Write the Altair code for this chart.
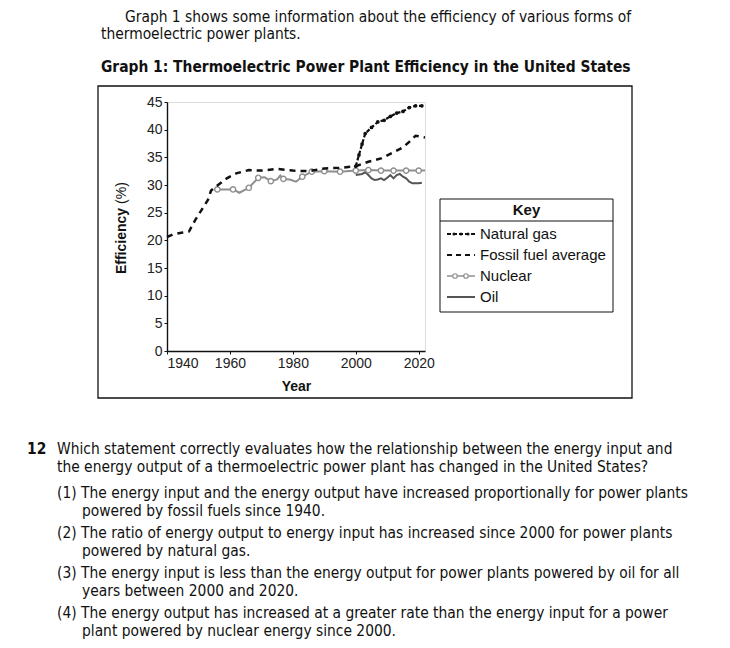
import altair as alt
import pandas as pd

# ---------------- data ----------------
fossil_years = [1940, 1942, 1945, 1947, 1949, 1951, 1953, 1954, 1956, 1959, 1962, 1966, 1970, 1975,
                1980, 1985, 1990, 1995, 2000, 2004, 2008, 2012, 2015, 2017, 2019, 2022]
fossil_vals = [20.6, 21.1, 21.4, 21.6, 23.7, 25.5, 27.3, 29.0, 29.9, 31.2, 32.1, 32.7, 32.6, 32.9,
               32.6, 32.5, 33.0, 33.1, 33.4, 34.2, 34.8, 35.9, 36.8, 37.8, 38.9, 38.6]

gas_years = [2000, 2001, 2002, 2003, 2005, 2007, 2009, 2011, 2013, 2015, 2017, 2019, 2021]
gas_vals = [33.4, 35.4, 37.4, 39.3, 40.4, 41.4, 41.7, 42.4, 43.0, 43.3, 44.0, 44.3, 44.3]

nuclear_years = [1956, 1961, 1963, 1966, 1969, 1971, 1973, 1975, 1976, 1977, 1979, 1981, 1983, 1986,
                 1990, 1995, 2000, 2004, 2008, 2012, 2016, 2020, 2022]
nuclear_vals = [29.2, 29.2, 28.6, 29.5, 31.3, 31.4, 30.7, 31.0, 31.7, 31.1, 31.0, 30.6, 31.5, 32.4,
                32.5, 32.4, 32.6, 32.7, 32.6, 32.6, 32.6, 32.6, 32.6]
nuclear_marker_years = [1956, 1961, 1966, 1969, 1973, 1977, 1983, 1986, 1990, 1995, 2000, 2004,
                        2008, 2012, 2016, 2020]

oil_years = [2000, 2002, 2003, 2004, 2005, 2006, 2007, 2008, 2009, 2010, 2011, 2012, 2013, 2014,
             2015, 2016, 2017, 2018, 2019, 2020, 2021]
oil_vals = [31.8, 32.0, 32.3, 31.8, 31.2, 30.9, 31.0, 31.2, 30.9, 31.3, 31.8, 31.2, 31.8, 32.0,
            31.5, 31.2, 30.6, 30.3, 30.3, 30.3, 30.4]

x_ticks = [1940, 1960, 1980, 2000, 2020]
y_ticks = [0, 5, 10, 15, 20, 25, 30, 35, 40, 45]

legend_labels = ["Natural gas", "Fossil fuel average", "Nuclear", "Oil"]
legend_title = "Key"
y_title_main = "Efficiency"
y_title_unit = "(%)"
x_title = "Year"

intro_lines = ["Graph 1 shows some information about the efficiency of various forms of",
               "thermoelectric power plants."]
graph_title = "Graph 1: Thermoelectric Power Plant Efficiency in the United States"
question_number = "12"
question_lines = ["Which statement correctly evaluates how the relationship between the energy input and",
                  "the energy output of a thermoelectric power plant has changed in the United States?"]
options = [
    ["(1) The energy input and the energy output have increased proportionally for power plants",
     "powered by fossil fuels since 1940."],
    ["(2) The ratio of energy output to energy input has increased since 2000 for power plants",
     "powered by natural gas."],
    ["(3) The energy input is less than the energy output for power plants powered by oil for all",
     "years between 2000 and 2020."],
    ["(4) The energy output has increased at a greater rate than the energy input for a power",
     "plant powered by nuclear energy since 2000."],
]

# ---------------- style ----------------
W, H = 258, 249
PAD = {"left": 159, "top": 94, "right": 714 - 159 - W, "bottom": 632 - 94 - H}
CF = "Liberation Sans"
TF = "DejaVu Sans Condensed"
TS = 15.4
INK = "#111111"

fossil_df = pd.DataFrame({"year": fossil_years, "eff": fossil_vals})
gas_df = pd.DataFrame({"year": gas_years, "eff": gas_vals})
nuc_df = pd.DataFrame({"year": nuclear_years, "eff": nuclear_vals})
nuc_lookup = dict(zip(nuclear_years, nuclear_vals))
nuc_mk_df = pd.DataFrame({"year": nuclear_marker_years,
                          "eff": [nuc_lookup[y] for y in nuclear_marker_years]})
oil_df = pd.DataFrame({"year": oil_years, "eff": oil_vals})

xenc = alt.X("year:Q", scale=alt.Scale(domain=[1940, 2022], nice=False, zero=False),
             axis=alt.Axis(values=x_ticks, format="d", title=x_title, grid=False,
                           labelFlush=True, titlePadding=9))
yenc = alt.Y("eff:Q", scale=alt.Scale(domain=[0, 45], nice=False),
             axis=alt.Axis(values=y_ticks, title=None, grid=False))

oil = alt.Chart(oil_df).mark_line(color="#555555", strokeWidth=2).encode(x=xenc, y=yenc)
nuc_line = alt.Chart(nuc_df).mark_line(color="#8f8f8f", strokeWidth=2).encode(x=xenc, y=yenc)
nuc_pts = alt.Chart(nuc_mk_df).mark_point(shape="circle", filled=True, fill="white",
                                          stroke="#8f8f8f", strokeWidth=1.4, size=28,
                                          opacity=1).encode(x=xenc, y=yenc)
fossil = alt.Chart(fossil_df).mark_line(color=INK, strokeWidth=2.5,
                                        strokeDash=[6, 5]).encode(x=xenc, y=yenc)
gas_line = alt.Chart(gas_df).mark_line(color=INK, strokeWidth=2.2,
                                       strokeDash=[4, 2]).encode(x=xenc, y=yenc)
gas_pts = alt.Chart(gas_df).mark_point(shape="circle", filled=True, color=INK, size=14,
                                       opacity=1).encode(x=xenc, y=yenc)

dummy = alt.Data(values=[{"a": 1}])


def txt(s, x, y, size=TS, weight="normal", font=TF, align="left", angle=0):
    return alt.Chart(dummy).mark_text(text=s, align=align, baseline="middle", fontSize=size,
                                      fontWeight=weight, font=font, angle=angle,
                                      color=INK).encode(x=alt.value(x), y=alt.value(y))


layers = [oil, nuc_line, nuc_pts, fossil, gas_line, gas_pts]

# frame around graph
layers.append(alt.Chart(dummy).mark_rect(fill=None, stroke=INK, strokeWidth=1.3).encode(
    x=alt.value(-69), x2=alt.value(465), y=alt.value(-16), y2=alt.value(296)))

# y title
layers.append(txt(y_title_main, -45, 139, size=14, weight="bold", font=CF, align="center", angle=270))
layers.append(txt(y_title_unit, -45, 91, size=14, font=CF, align="center", angle=270))

# legend
LX0, LX1, LY0, LY1 = 273, 446, 97, 210
layers.append(alt.Chart(dummy).mark_rect(fill="white", stroke=INK, strokeWidth=1).encode(
    x=alt.value(LX0), x2=alt.value(LX1), y=alt.value(LY0), y2=alt.value(LY1)))
layers.append(alt.Chart(dummy).mark_rule(color=INK, strokeWidth=1).encode(
    x=alt.value(LX0), x2=alt.value(LX1), y=alt.value(119)))
layers.append(txt(legend_title, (LX0 + LX1) / 2, 108, size=15, weight="bold", font=CF, align="center"))
ly = [132, 153, 174, 195]
for lab, yy in zip(legend_labels, ly):
    layers.append(txt(lab, 313, yy, size=15, font=CF))
# legend samples
layers.append(alt.Chart(dummy).mark_rule(color=INK, strokeWidth=2, strokeDash=[4, 2]).encode(
    x=alt.value(280), x2=alt.value(308), y=alt.value(ly[0])))
for px in [287, 294, 301]:
    layers.append(alt.Chart(dummy).mark_point(shape="circle", filled=True, color=INK, size=10,
                                              opacity=1).encode(x=alt.value(px), y=alt.value(ly[0])))
layers.append(alt.Chart(dummy).mark_rule(color=INK, strokeWidth=2, strokeDash=[5, 4]).encode(
    x=alt.value(280), x2=alt.value(308), y=alt.value(ly[1])))
layers.append(alt.Chart(dummy).mark_rule(color="#8f8f8f", strokeWidth=1.5).encode(
    x=alt.value(280), x2=alt.value(308), y=alt.value(ly[2])))
for px in [288, 299]:
    layers.append(alt.Chart(dummy).mark_point(shape="circle", filled=True, fill="white",
                                              stroke="#8f8f8f", strokeWidth=1.2, size=20,
                                              opacity=1).encode(x=alt.value(px), y=alt.value(ly[2])))
layers.append(alt.Chart(dummy).mark_rule(color="#555555", strokeWidth=2).encode(
    x=alt.value(280), x2=alt.value(308), y=alt.value(ly[3])))

# page text
layers.append(txt(intro_lines[0], -42, -85))
layers.append(txt(intro_lines[1], -66, -68))
layers.append(txt(graph_title, -66, -35, weight="bold"))
layers.append(txt(question_number, -140, 347, weight="bold"))
layers.append(txt(question_lines[0], -110, 347))
layers.append(txt(question_lines[1], -110, 365))
for i, (a, b) in enumerate(options):
    y0 = 391 + 40 * i
    layers.append(txt(a, -110, y0))
    layers.append(txt(b, -85, y0 + 18))

chart = alt.layer(*layers).properties(
    width=W, height=H, autosize=alt.AutoSizeParams(type="none"), padding=PAD
).configure_view(stroke=None).configure(background="white").configure_axis(
    domainColor=INK, domainWidth=1.4, tickColor=INK, tickSize=3, labelPadding=2,
    labelFont=CF, labelFontSize=14, labelColor="#222222",
    titleFont=CF, titleFontSize=14, titleFontWeight="bold", titleColor=INK)

chart.save("out.html", embed_options={"renderer": "svg", "actions": False})
